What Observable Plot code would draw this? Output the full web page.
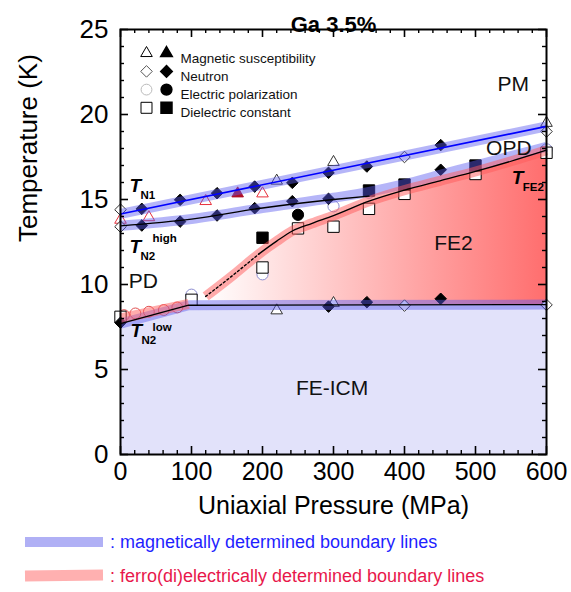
<!DOCTYPE html>
<html><head><meta charset="utf-8">
<script src="https://cdn.jsdelivr.net/npm/d3@7"></script>
<script src="https://cdn.jsdelivr.net/npm/@observablehq/plot@0.6"></script>
<style>
html,body{margin:0;padding:0;background:#fff;}
#wrap{position:relative;width:571px;height:592px;overflow:hidden;font-family:"Liberation Sans",Arial,Helvetica,sans-serif;}
#chart svg{display:block;}
.sw{position:absolute;left:25px;width:78px;}
.lt{position:absolute;left:110px;font-size:18px;line-height:22px;white-space:nowrap;}
</style></head><body>
<div id="wrap"><div id="chart"></div><div id="legend"></div></div>
<script>
// ---------- axes ----------
const xMajor = [0, 100, 200, 300, 400, 500, 600];
const yMajor = [0, 5, 10, 15, 20, 25];
const xMinor = d3.range(0, 601, 20).filter(v => v % 100 !== 0);
const yMinor = d3.range(0, 26, 1).filter(v => v % 5 !== 0);

// ---------- boundary lines (pressure MPa, temperature K) ----------
const tn1P = [0, 600];
const tn1T = [14.15, 19.3];

const tn2HighP = [0, 100, 200, 300, 350];
const tn2HighT = [13.45, 13.85, 14.5, 15.0, 15.2];
const tn2HighBandP = [0, 100, 200, 300, 350, 400, 450, 500, 550, 600];
const tn2HighBandT = [13.45, 13.85, 14.5, 15.1, 15.45, 15.9, 16.45, 17.0, 17.55, 18.1];

const tn2LowP = [0, 96, 600];
const tn2LowT = [7.7, 8.78, 8.82];

const tfe2P = [120, 160, 195, 220, 242, 270, 300, 350, 400, 450, 500, 550, 600];
const tfe2T = [9.3, 10.6, 11.8, 12.55, 13.15, 13.6, 14.05, 14.9, 15.55, 16.1, 16.65, 17.25, 17.9];
const tfe2DottedEnd = 195;

const feLowBandP = [0, 96];
const feLowBandT = [8.0, 8.86];

// ---------- measured points ----------
const suscOpenP = [220, 300, 600, 220, 300];
const suscOpenT = [16.1, 17.2, 19.5, 8.47, 8.9];
const suscOpenRedP = [0, 40, 120, 200];
const suscOpenRedT = [13.8, 13.95, 14.9, 15.35];
const suscFilledP = [165];
const suscFilledT = [15.35];

const neutronFilledP = [30, 84, 136, 189, 242, 293, 347, 451, 30, 84, 136, 189, 242, 293, 451, 0, 293, 347, 451];
const neutronFilledT = [14.45, 14.98, 15.37, 15.76, 15.98, 16.57, 16.94, 18.2, 13.47, 13.7, 14.06, 14.49, 14.9, 15.04, 16.75, 7.75, 8.7, 8.96, 9.16];
const neutronOpenP = [0, 400, 600, 0, 400, 600];
const neutronOpenT = [14.4, 17.5, 19.0, 13.4, 8.76, 8.8];

const polFilledP = [250];
const polFilledT = [14.1];
const polOpenRedP = [5, 21, 40, 61, 80];
const polOpenRedT = [8.2, 8.3, 8.4, 8.5, 8.65];
const polOpenP = [100, 200, 300, 350, 400, 500, 600];
const polOpenT = [9.4, 10.6, 14.6, 15.4, 15.6, 16.8, 17.95];

const dielFilledP = [200, 350, 400, 500];
const dielFilledT = [12.75, 15.53, 15.88, 17.0];
const dielOpenP = [0, 100, 200, 250, 300, 350, 400, 500, 600];
const dielOpenT = [8.1, 9.1, 11.0, 13.3, 13.4, 14.45, 15.33, 16.5, 17.75];

// ---------- texts ----------
const title = "Ga 3.5%";
const xLabel = "Uniaxial Pressure (MPa)";
const yLabel = "Temperature (K)";
const legendNames = ["Magnetic susceptibility", "Neutron", "Electric polarization", "Dielectric constant"];
const legendSymbols = ["triangle", "diamond2", "circle", "square"];
const regionNames = ["PM", "OPD", "FE2", "PD", "FE-ICM"];
const regionP = [553, 547, 469, 32, 298];
const regionT = [21.8, 18.0, 12.4, 10.2, 3.9];
const tLabelSubs = ["N1", "N2", "N2", "FE2"];
const tLabelSups = ["", "high", "low", ""];
const tLabelP = [12.7, 12.7, 14, 551];
const tLabelT = [15.82, 12.24, 7.29, 16.29];
const bottomLegend = [": magnetically determined boundary lines", ": ferro(di)electrically determined boundary lines"];

// ---------- layout ----------
const W = 571, H = 530;
const mL = 120, mR = 25, mT = 29, mB = H - 454;
const fW = W - mL - mR, fH = H - mT - mB;
const FONT = "'Liberation Sans', Arial, Helvetica, sans-serif";

const lowScale = d3.scaleLinear().domain(tn2LowP).range(tn2LowT);
const fe2Lower = tfe2P.map(p => lowScale(p));
const idx = a => a.map((_, i) => i);

const blueBand = {stroke: "#5a5af0", strokeOpacity: 0.45, strokeWidth: 10, strokeLinecap: "butt"};
const redBand = {stroke: "#ff5a5a", strokeOpacity: 0.5, strokeWidth: 10, strokeLinecap: "butt"};

const gradient = (index, scales) => {
  const defs = d3.create("svg:defs");
  const g = defs.append("linearGradient").attr("id", "fe2grad")
    .attr("gradientUnits", "userSpaceOnUse")
    .attr("x1", scales.x(tfe2P[0])).attr("x2", scales.x(600)).attr("y1", 0).attr("y2", 0);
  g.append("stop").attr("offset", "0").attr("stop-color", "#ffffff");
  g.append("stop").attr("offset", "1").attr("stop-color", "#ff6e6e");
  return defs.node();
};

const dots = (P, T, o) => Plot.dot(idx(P), {x: i => P[i], y: i => T[i], strokeWidth: 1, ...o});

const marks = [
  gradient,
  Plot.areaY(idx(tn2LowP), {x: i => tn2LowP[i], y: i => tn2LowT[i], fill: "#e2e2fa"}),
  Plot.areaY(idx(tfe2P), {x: i => tfe2P[i], y1: i => fe2Lower[i], y2: i => tfe2T[i], fill: "url(#fe2grad)"}),
  // points
  dots(polOpenP, polOpenT, {symbol: "circle", r: 5.6, stroke: "#8c8cd0", fill: "white"}),
  dots(polOpenRedP, polOpenRedT, {symbol: "circle", r: 5.4, stroke: "#e05050", fill: "white"}),
  dots(dielOpenP, dielOpenT, {symbol: "square", r: 6.4, stroke: "black", fill: "white"}),
  dots(dielFilledP, dielFilledT, {symbol: "square", r: 6.4, stroke: "black", fill: "black"}),
  dots(polFilledP, polFilledT, {symbol: "circle", r: 5.6, stroke: "black", fill: "black"}),
  dots(suscOpenP, suscOpenT, {symbol: "triangle", r: 4.3, stroke: "#333", fill: "white"}),
  dots(suscOpenRedP, suscOpenRedT, {symbol: "triangle", r: 4.3, stroke: "#e8303c", fill: "white"}),
  dots(suscFilledP, suscFilledT, {symbol: "triangle", r: 4.3, stroke: "#b0102a", fill: "#b0102a"}),
  dots(neutronOpenP, neutronOpenT, {symbol: "diamond2", r: 5.2, stroke: "#333", fill: "white"}),
  dots(neutronFilledP, neutronFilledT, {symbol: "diamond2", r: 5.2, stroke: "black", fill: "black"}),
  // bands
  Plot.line(idx(tn1P), {x: i => tn1P[i], y: i => tn1T[i], ...blueBand}),
  Plot.line(idx(tn2HighBandP), {x: i => tn2HighBandP[i], y: i => tn2HighBandT[i], curve: "monotone-x", ...blueBand}),
  Plot.line(idx(tn2LowP), {x: i => tn2LowP[i], y: i => tn2LowT[i], ...blueBand}),
  Plot.line(idx(tfe2P), {x: i => tfe2P[i], y: i => tfe2T[i], curve: "monotone-x", ...redBand}),
  Plot.line(idx(feLowBandP), {x: i => feLowBandP[i], y: i => feLowBandT[i], ...redBand}),
  // lines
  Plot.line(idx(tn1P), {x: i => tn1P[i], y: i => tn1T[i], stroke: "#0000ff", strokeWidth: 1.6}),
  Plot.line(idx(tn2HighP), {x: i => tn2HighP[i], y: i => tn2HighT[i], curve: "monotone-x", stroke: "black", strokeWidth: 1.3}),
  Plot.line(idx(tn2LowP), {x: i => tn2LowP[i], y: i => tn2LowT[i], stroke: "black", strokeWidth: 1.3}),
  Plot.line(idx(tfe2P).filter(i => tfe2P[i] <= tfe2DottedEnd), {x: i => tfe2P[i], y: i => tfe2T[i], curve: "monotone-x", stroke: "black", strokeWidth: 1.4, strokeDasharray: "2,2.5"}),
  Plot.line(idx(tfe2P).filter(i => tfe2P[i] >= tfe2DottedEnd), {x: i => tfe2P[i], y: i => tfe2T[i], curve: "monotone-x", stroke: "black", strokeWidth: 1.3}),
  // region labels
  Plot.text(idx(regionNames), {x: i => regionP[i], y: i => regionT[i], text: i => regionNames[i], fontSize: 21, fill: "#111"}),
  // T labels
  Plot.text(idx(tLabelSubs), {x: i => tLabelP[i], y: i => tLabelT[i], text: () => "T", textAnchor: "start", fontSize: 19, fontWeight: "bold", fontStyle: "italic"}),
  Plot.text(idx(tLabelSubs), {x: i => tLabelP[i], y: i => tLabelT[i], text: i => tLabelSubs[i], textAnchor: "start", dx: 11, dy: 10, fontSize: 11.5, fontWeight: "bold"}),
  Plot.text(idx(tLabelSups).filter(i => i === 1), {x: i => tLabelP[i], y: i => tLabelT[i], text: i => tLabelSups[i], textAnchor: "start", dx: 23, dy: -8, fontSize: 11.5, fontWeight: "bold"}),
  Plot.text(idx(tLabelSups).filter(i => i === 2), {x: i => tLabelP[i], y: i => tLabelT[i], text: i => tLabelSups[i], textAnchor: "start", dx: 22, dy: -3, fontSize: 11.5, fontWeight: "bold"}),
  // in-plot legend
  ...legendNames.flatMap((name, i) => {
    const dy = 23.7 + 18.2 * i;
    const sym = legendSymbols[i];
    const r = {triangle: 4.3, diamond2: 5.2, circle: 5.4, square: 6.2}[sym];
    const openStroke = sym === "circle" ? "#bbb" : sym === "diamond2" ? "#555" : "black";
    return [
      Plot.dot([name], {frameAnchor: "top-left", dx: 26, dy, symbol: sym, r, stroke: openStroke, fill: "white", strokeWidth: 1}),
      Plot.dot([name], {frameAnchor: "top-left", dx: 46, dy, symbol: sym, r, stroke: "black", fill: "black"}),
      Plot.text([name], {frameAnchor: "top-left", dx: 60, dy, text: d => d, textAnchor: "start", fontSize: 13.5, fill: "#111"})
    ];
  }),
  // frame & ticks
  Plot.frame({stroke: "black", strokeWidth: 2}),
  Plot.tickX(xMajor, {x: d => d, insetTop: fH - 8, stroke: "black", strokeWidth: 1.6}),
  Plot.tickX(xMinor, {x: d => d, insetTop: fH - 4, stroke: "black", strokeWidth: 1.4}),
  Plot.tickX(xMajor, {x: d => d, insetBottom: fH - 8, stroke: "black", strokeWidth: 1.6}),
  Plot.tickX(xMinor, {x: d => d, insetBottom: fH - 4, stroke: "black", strokeWidth: 1.4}),
  Plot.tickY(yMajor, {y: d => d, insetRight: fW - 8, stroke: "black", strokeWidth: 1.6}),
  Plot.tickY(yMinor, {y: d => d, insetRight: fW - 4, stroke: "black", strokeWidth: 1.4}),
  Plot.tickY(yMajor, {y: d => d, insetLeft: fW - 8, stroke: "black", strokeWidth: 1.6}),
  Plot.tickY(yMinor, {y: d => d, insetLeft: fW - 4, stroke: "black", strokeWidth: 1.4}),
  Plot.axisX({ticks: xMajor, tickSize: 0, tickPadding: 8, tickFormat: d => String(d), fontSize: 25, label: null}),
  Plot.axisY({ticks: yMajor, tickSize: 0, tickPadding: 12, tickFormat: d => String(d), fontSize: 26, label: null}),
  Plot.text([xLabel], {frameAnchor: "bottom", dy: 59, text: d => d, fontSize: 25}),
  Plot.text([yLabel], {frameAnchor: "left", dx: -92, rotate: -90, text: d => d, fontSize: 26}),
  Plot.text([title], {frameAnchor: "top", dy: -13.5, text: d => d, fontSize: 22, fontWeight: "bold"})
];

const chart = Plot.plot({
  width: W, height: H,
  marginLeft: mL, marginRight: mR, marginTop: mT, marginBottom: mB,
  x: {domain: [0, 600]},
  y: {domain: [0, 25]},
  style: {fontFamily: FONT, fontSize: "26px", color: "black", background: "white", overflow: "visible"},
  marks
});
document.getElementById("chart").appendChild(chart);

// bottom legend (HTML, below the SVG)
const legend = document.getElementById("legend");
const bottomColors = [{sw: "#b0b0f5", txt: "#1f1fff", top: 537, h: 10, rot: 0}, {sw: "#ffb0b0", txt: "#e8174b", top: 570, h: 11, rot: -0.6}];
bottomLegend.forEach((t, i) => {
  const c = bottomColors[i];
  const sw = document.createElement("div");
  sw.className = "sw";
  sw.style.top = c.top + "px"; sw.style.height = c.h + "px"; sw.style.background = c.sw;
  sw.style.transform = `rotate(${c.rot}deg)`;
  legend.appendChild(sw);
  const lt = document.createElement("div");
  lt.className = "lt";
  lt.style.top = (c.top + c.h / 2 - 11) + "px"; lt.style.color = c.txt;
  lt.textContent = t;
  legend.appendChild(lt);
});
</script>
</body></html>
